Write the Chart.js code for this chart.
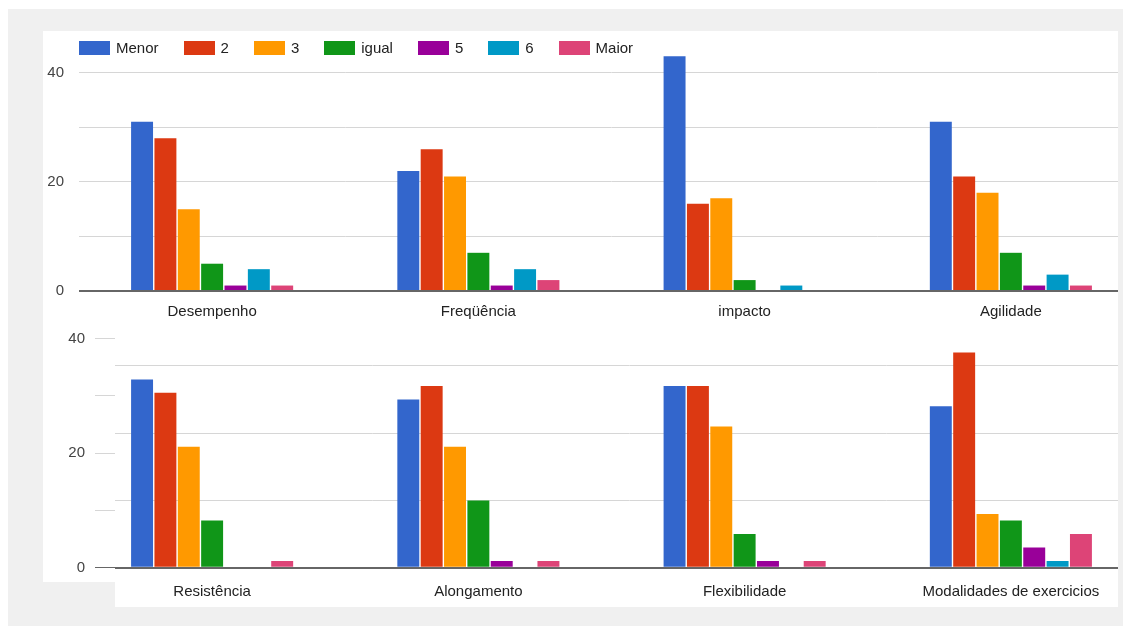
<!DOCTYPE html>
<html>
<head>
<meta charset="utf-8">
<script src="https://cdn.jsdelivr.net/npm/chart.js@4.4.1/dist/chart.umd.min.js"></script>
<style>
  body { margin: 0; width: 1125px; height: 626px; background: #fff; position: relative; overflow: hidden; font-family: "Liberation Sans", Arial, sans-serif; }
  .bg { position: absolute; left: 8px; top: 9px; width: 1115px; height: 617px; background: #f0f0f0; }
  .panel { position: absolute; background: #fff; }
  .wrap { position: absolute; overflow: hidden; }
  #legend { position: absolute; left: 79px; top: 39px; display: flex; align-items: center; font-size: 15px; color: #222; }
  #legend .item { display: flex; align-items: center; margin-right: 25px; }
  #legend .box { width: 31px; height: 14px; margin-right: 6px; }
</style>
</head>
<body>
<div class="bg"></div>
<div class="panel" style="left:43px;top:31px;width:1075px;height:294px"></div>
<div class="panel" style="left:43px;top:325px;width:72px;height:257px"></div>
<div class="panel" style="left:115px;top:325px;width:1003px;height:282px"></div>
<div class="wrap" style="left:43px;top:31px;width:1075px;height:294px"><canvas id="topChart" width="1101" height="307"></canvas></div>
<div class="wrap" style="left:43px;top:316px;width:1075px;height:291px"><canvas id="bottomChart" width="1101" height="307"></canvas></div>
<div id="legend"></div>

<script>
const seriesLabels = ["Menor", "2", "3", "igual", "5", "6", "Maior"];
const seriesColors = ["#3366cc", "#dc3912", "#ff9900", "#109618", "#990099", "#0099c6", "#dd4477"];

const topCategories = ["Desempenho", "Freqüência", "impacto", "Agilidade"];
const topMenor = [31, 22, 43, 31];
const top2 = [28, 26, 16, 21];
const top3 = [15, 21, 17, 18];
const topIgual = [5, 7, 2, 7];
const top5 = [1, 1, 0, 1];
const top6 = [4, 4, 1, 3];
const topMaior = [1, 2, 0, 1];

const bottomCategories = ["Resistência", "Alongamento", "Flexibilidade", "Modalidades de exercicios"];
const bottomMenor = [28, 25, 27, 24];
const bottom2 = [26, 27, 27, 32];
const bottom3 = [18, 18, 21, 8];
const bottomIgual = [7, 10, 5, 7];
const bottom5 = [0, 1, 1, 3];
const bottom6 = [0, 0, 0, 1];
const bottomMaior = [1, 1, 1, 5];

// tick labels shown on the left axes
const axisLabels = [0, 20, 40];

Chart.defaults.font.family = '"Liberation Sans", Arial, sans-serif';
Chart.defaults.font.size = 15;

function makeDatasets(rows) {
  return rows.map(function (values, i) {
    return {
      label: seriesLabels[i],
      data: values,
      backgroundColor: seriesColors[i],
      borderWidth: 0,
      categoryPercentage: 0.614,
      barPercentage: 0.94,
    };
  });
}

function gridColor(ctx) {
  return ctx.tick.value === 0 ? "#666" : "#d6d6d6";
}
function gridWidth(ctx) {
  return ctx.tick.value === 0 ? 2 : 1;
}
function tickLabel(value) {
  return axisLabels.includes(value) ? value : "";
}

// legend
const legend = document.getElementById("legend");
seriesLabels.forEach(function (label, i) {
  const item = document.createElement("div");
  item.className = "item";
  item.innerHTML = '<span class="box" style="background:' + seriesColors[i] + '"></span><span>' + label + "</span>";
  legend.appendChild(item);
});

const yAxisWidth = 36;

new Chart(document.getElementById("topChart"), {
  type: "bar",
  data: {
    labels: topCategories,
    datasets: makeDatasets([topMenor, top2, top3, topIgual, top5, top6, topMaior]),
  },
  options: {
    responsive: false,
    animation: false,
    layout: { padding: { top: 15, bottom: 5, left: 0, right: 0 } },
    plugins: { legend: { display: false }, tooltip: { enabled: false } },
    scales: {
      x: {
        grid: { display: false, drawTicks: false },
        border: { display: false },
        ticks: { padding: 12, color: "#222", maxRotation: 0, autoSkip: false },
      },
      y: {
        min: 0,
        max: 43.25,
        afterFit: function (scale) { scale.width = yAxisWidth; },
        ticks: { stepSize: 10, includeBounds: false, padding: 15, color: "#444", callback: tickLabel },
        grid: { drawTicks: false, color: gridColor, lineWidth: gridWidth },
        border: { display: false },
      },
    },
  },
});

// the lower picture keeps the same category positions as the upper one,
// while its plot (grid) starts further right
const alignCategories = {
  id: "alignCategories",
  afterLayout: function (chart) {
    const x = chart.scales.x;
    x.left = yAxisWidth;
    x.width = x.right - x.left;
    x.configure();
  },
};

new Chart(document.getElementById("bottomChart"), {
  type: "bar",
  data: {
    labels: bottomCategories,
    datasets: makeDatasets([bottomMenor, bottom2, bottom3, bottomIgual, bottom5, bottom6, bottomMaior]),
  },
  plugins: [alignCategories],
  options: {
    responsive: false,
    animation: false,
    layout: { padding: { top: 10, bottom: 7.3, left: 0, right: 0 } },
    plugins: { legend: { display: false }, tooltip: { enabled: false } },
    scales: {
      x: {
        grid: { display: false, drawTicks: false },
        border: { display: false },
        ticks: { padding: 15, color: "#222", maxRotation: 0, autoSkip: false },
      },
      y: {
        min: 0,
        max: 34.6,
        afterFit: function (scale) { scale.width = 0; },
        ticks: { display: false, stepSize: 10, includeBounds: false },
        grid: { drawTicks: false, color: gridColor, lineWidth: gridWidth },
        border: { display: false },
      },
      y2: {
        position: "left",
        min: 0,
        max: 40.6,
        afterFit: function (scale) { scale.width = 72; },
        ticks: { stepSize: 10, includeBounds: false, padding: 10, color: "#444", callback: tickLabel },
        grid: { drawOnChartArea: false, tickLength: 20, color: function (ctx) { return ctx.tick.value === 0 ? "#666" : "#d6d6d6"; } },
        border: { display: false },
      },
    },
  },
});
</script>
</body>
</html>
